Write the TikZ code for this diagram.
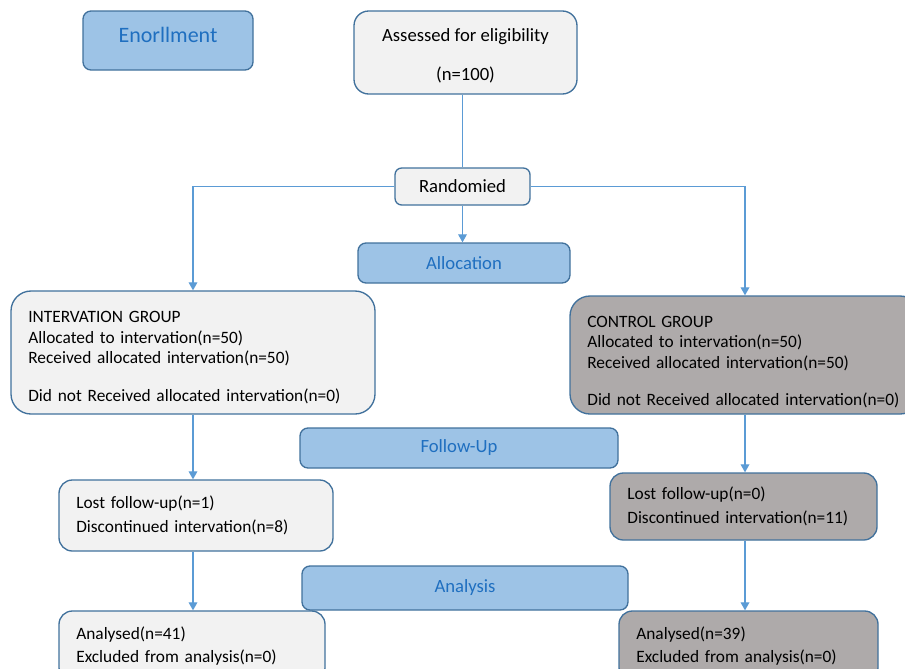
\documentclass[tikz,border=0pt]{standalone}
\usepackage{fontspec}
\setmainfont{Carlito}
\usepackage{tikz}
\usetikzlibrary{positioning,arrows.meta}
\definecolor{edgecol}{HTML}{41719C}
\definecolor{phasefill}{HTML}{9DC3E6}
\definecolor{phasetext}{HTML}{1F6FC0}
\definecolor{lightfill}{HTML}{F2F2F2}
\definecolor{greyfill}{HTML}{AEAAAA}
\definecolor{linecol}{HTML}{5B9BD5}
\tikzstyle{line} = [draw=linecol, line width=0.9pt]
\tikzstyle{flow} = [line, -{Triangle[length=6pt,width=6.5pt]}]
\tikzstyle{phase} = [draw=edgecol, fill=phasefill, text=phasetext, line width=1pt, rounded corners=6pt, align=center]
\tikzstyle{infobox} = [draw=edgecol, line width=1pt, rounded corners=10pt, align=left, inner xsep=13pt, font=\fontsize{13}{15.4}\selectfont]

\begin{document}
\begin{tikzpicture}[x=0.75pt,y=-0.75pt,font=\fontsize{14}{15.4}\selectfont]
  \useasboundingbox (0,0) rectangle (905,668);
  \clip (0,0) rectangle (905,668);
  % phases
  \node[phase, minimum width=127.5pt, minimum height=44.25pt, font=\fontsize{16.5}{18}\selectfont] (enrol) at (168,40.5) {\raisebox{8pt}{Enorllment}};
  \node[phase, minimum width=159pt, minimum height=30pt] (alloc) at (464,263) {Allocation};
  \node[phase, minimum width=238.5pt, minimum height=30pt] (follow) at (459,448) {Follow-Up};
  \node[phase, minimum width=244.5pt, minimum height=33pt] (analys) at (465,588) {Analysis};
  % top
  \node[infobox, fill=lightfill, align=center, rounded corners=11pt, minimum width=167.25pt, minimum height=62.25pt, font=\fontsize{14}{15.4}\selectfont] (assess) at (465.5,52.5) {\rule{0pt}{15pt}Assessed for eligibility\\[13.6pt](n=100)};
  \node[infobox, fill=lightfill, align=center, rounded corners=5pt, minimum width=101.25pt, minimum height=27.75pt, font=\fontsize{14}{15.4}\selectfont] (rand) at (462.5,186.5) {Randomied};
  % groups
  \node[infobox, fill=lightfill, rounded corners=15pt, text width=247pt, minimum height=92.25pt] (intv) at (193,352.5) {\rule{0pt}{16pt}INTERVATION GROUP\\Allocated to intervation(n=50)\\Received allocated intervation(n=50)\\[13pt]Did not Received allocated intervation(n=0)};
  \node[infobox, fill=greyfill, rounded corners=15pt, text width=236.5pt, minimum height=88.5pt] (ctrl) at (745,355) {\rule{0pt}{19pt}CONTROL GROUP\\Allocated to intervation(n=50)\\Received allocated intervation(n=50)\\[13pt]Did not Received allocated intervation(n=0)};
  \node[infobox, fill=lightfill, text width=179.5pt, minimum height=53.25pt] (lostI) at (196,515.5) {Lost follow-up(n=1)\\[2.6pt]Discontinued intervation(n=8)};
  \node[infobox, fill=greyfill, text width=174.25pt, minimum height=50.25pt] (lostC) at (743.5,506.5) {Lost follow-up(n=0)\\[2.6pt]Discontinued intervation(n=11)};
  \node[infobox, fill=lightfill, text width=173.5pt, minimum height=52.5pt] (anaI) at (192,646) {Analysed(n=41)\\[2pt]Excluded from analysis(n=0)};
  \node[infobox, fill=greyfill, text width=168.25pt, minimum height=52.5pt] (anaC) at (748.5,646) {Analysed(n=39)\\[2pt]Excluded from analysis(n=0)};
  % connectors
  \path[line] (assess.south -| rand.north) -- (rand.north);
  \path[flow] (rand.west) -| (intv.north);
  \path[flow] (rand.east) -| (ctrl.north);
  \path[flow] (rand.south) -- (rand.south |- alloc.north);
  \path[flow] (intv.south) -- (intv.south |- lostI.north);
  \path[flow] (ctrl.south) -- (ctrl.south |- lostC.north);
  \path[flow] (lostI.south -| intv.south) -- (intv.south |- anaI.north);
  \path[flow] (lostC.south -| ctrl.south) -- (ctrl.south |- anaC.north);
\end{tikzpicture}
\end{document}
